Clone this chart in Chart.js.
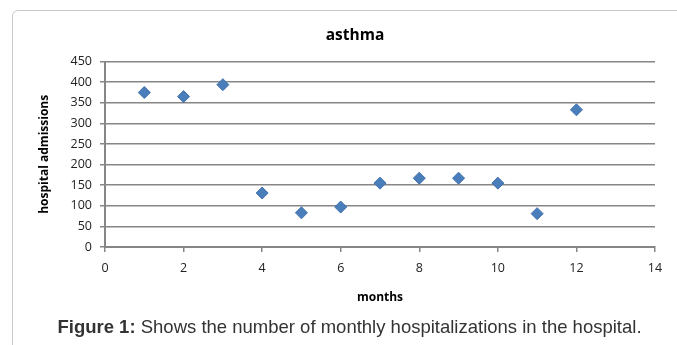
<!DOCTYPE html>
<html>
<head>
<meta charset="utf-8">
<script src="https://cdn.jsdelivr.net/npm/chart.js@4/dist/chart.umd.min.js"></script>
<style>
  html, body { margin: 0; padding: 0; background: #fff; overflow: hidden; }
  #wrap { position: relative; width: 677px; height: 345px; }
  #frame {
    position: absolute; left: 12px; top: 10px; width: 720px; height: 400px;
    border: 1px solid #c9c9c9; border-radius: 6px; box-sizing: border-box;
  }
  #asthmaChart { position: absolute; left: 0; top: 0; }
  #caption {
    position: absolute; left: 0; width: 677px; top: 316px; text-align: center;
    font-family: "Liberation Sans", Arial, sans-serif; font-size: 18.5px; color: #333;
    padding-left: 22px; box-sizing: border-box; white-space: nowrap;
  }
</style>
</head>
<body>
<div id="wrap">
  <div id="frame"></div>
  <canvas id="asthmaChart" width="677" height="345"></canvas>
  <div id="caption"><b>Figure 1:</b> Shows the number of monthly hospitalizations in the hospital.</div>
</div>
<script>
// Monthly hospital admissions for asthma
const months = [1, 2, 3, 4, 5, 6, 7, 8, 9, 10, 11, 12];
const admissions = [375, 365, 394, 131, 83, 97, 155, 167, 167, 155, 81, 333];

// Axis ranges / tick steps
const xTicks = [0, 14, 2];   // min, max, step
const yTicks = [0, 450, 50];

const gridGray = '#868686';
const labelFont = { family: '"Open Sans", "Noto Sans", sans-serif', size: 12.5 };
const boldFont = { family: '"Open Sans", "Noto Sans", sans-serif', size: 12, weight: 'bold' };

const ctx = document.getElementById('asthmaChart').getContext('2d');

// left padding is wider so the title centres over the plot like the original;
// the y axis title is pulled back out with a negative padding
new Chart(ctx, {
    type: 'scatter',
    data: {
        datasets: [{
            label: 'asthma',
            data: months.map((m, i) => ({ x: m, y: admissions[i] })),
            pointStyle: 'rectRot',
            pointRadius: 6,
            pointHoverRadius: 6,
            backgroundColor: '#4a7ebb',
            borderColor: '#3f70ad',
            borderWidth: 1
        }]
    },
    options: {
        responsive: false,
        animation: false,
        layout: { padding: { left: 55, right: 22, top: 0, bottom: 38 } },
        plugins: {
            legend: { display: false },
            tooltip: { enabled: false },
            title: {
                display: true,
                text: 'asthma',
                color: '#000',
                font: { family: '"Open Sans", "Noto Sans", sans-serif', size: 15.5, weight: 'bold' },
                padding: { top: 26, bottom: 17 }
            }
        },
        scales: {
            x: {
                type: 'linear',
                min: xTicks[0],
                max: xTicks[1],
                ticks: { stepSize: xTicks[2], color: '#222', font: labelFont, padding: 9, maxRotation: 0 },
                grid: { drawOnChartArea: false, drawTicks: true, tickLength: 5, color: gridGray, lineWidth: 1.5 },
                border: { display: true, color: gridGray, width: 2 },
                title: { display: true, text: 'months', color: '#000', font: boldFont, padding: { top: 4, bottom: 2 } },
                afterFit: scale => { scale.height = 60; }
            },
            y: {
                min: yTicks[0],
                max: yTicks[1],
                ticks: { stepSize: yTicks[2], color: '#222', font: labelFont, padding: 8 },
                grid: { drawOnChartArea: true, drawTicks: true, tickLength: 5, color: gridGray, lineWidth: 1.5 },
                border: { display: true, color: gridGray, width: 2 },
                title: { display: true, text: 'hospital admissions', color: '#000', font: boldFont, padding: { top: -18, bottom: 0 } },
                afterFit: scale => { scale.width = 50; }
            }
        }
    }
});
</script>
</body>
</html>
